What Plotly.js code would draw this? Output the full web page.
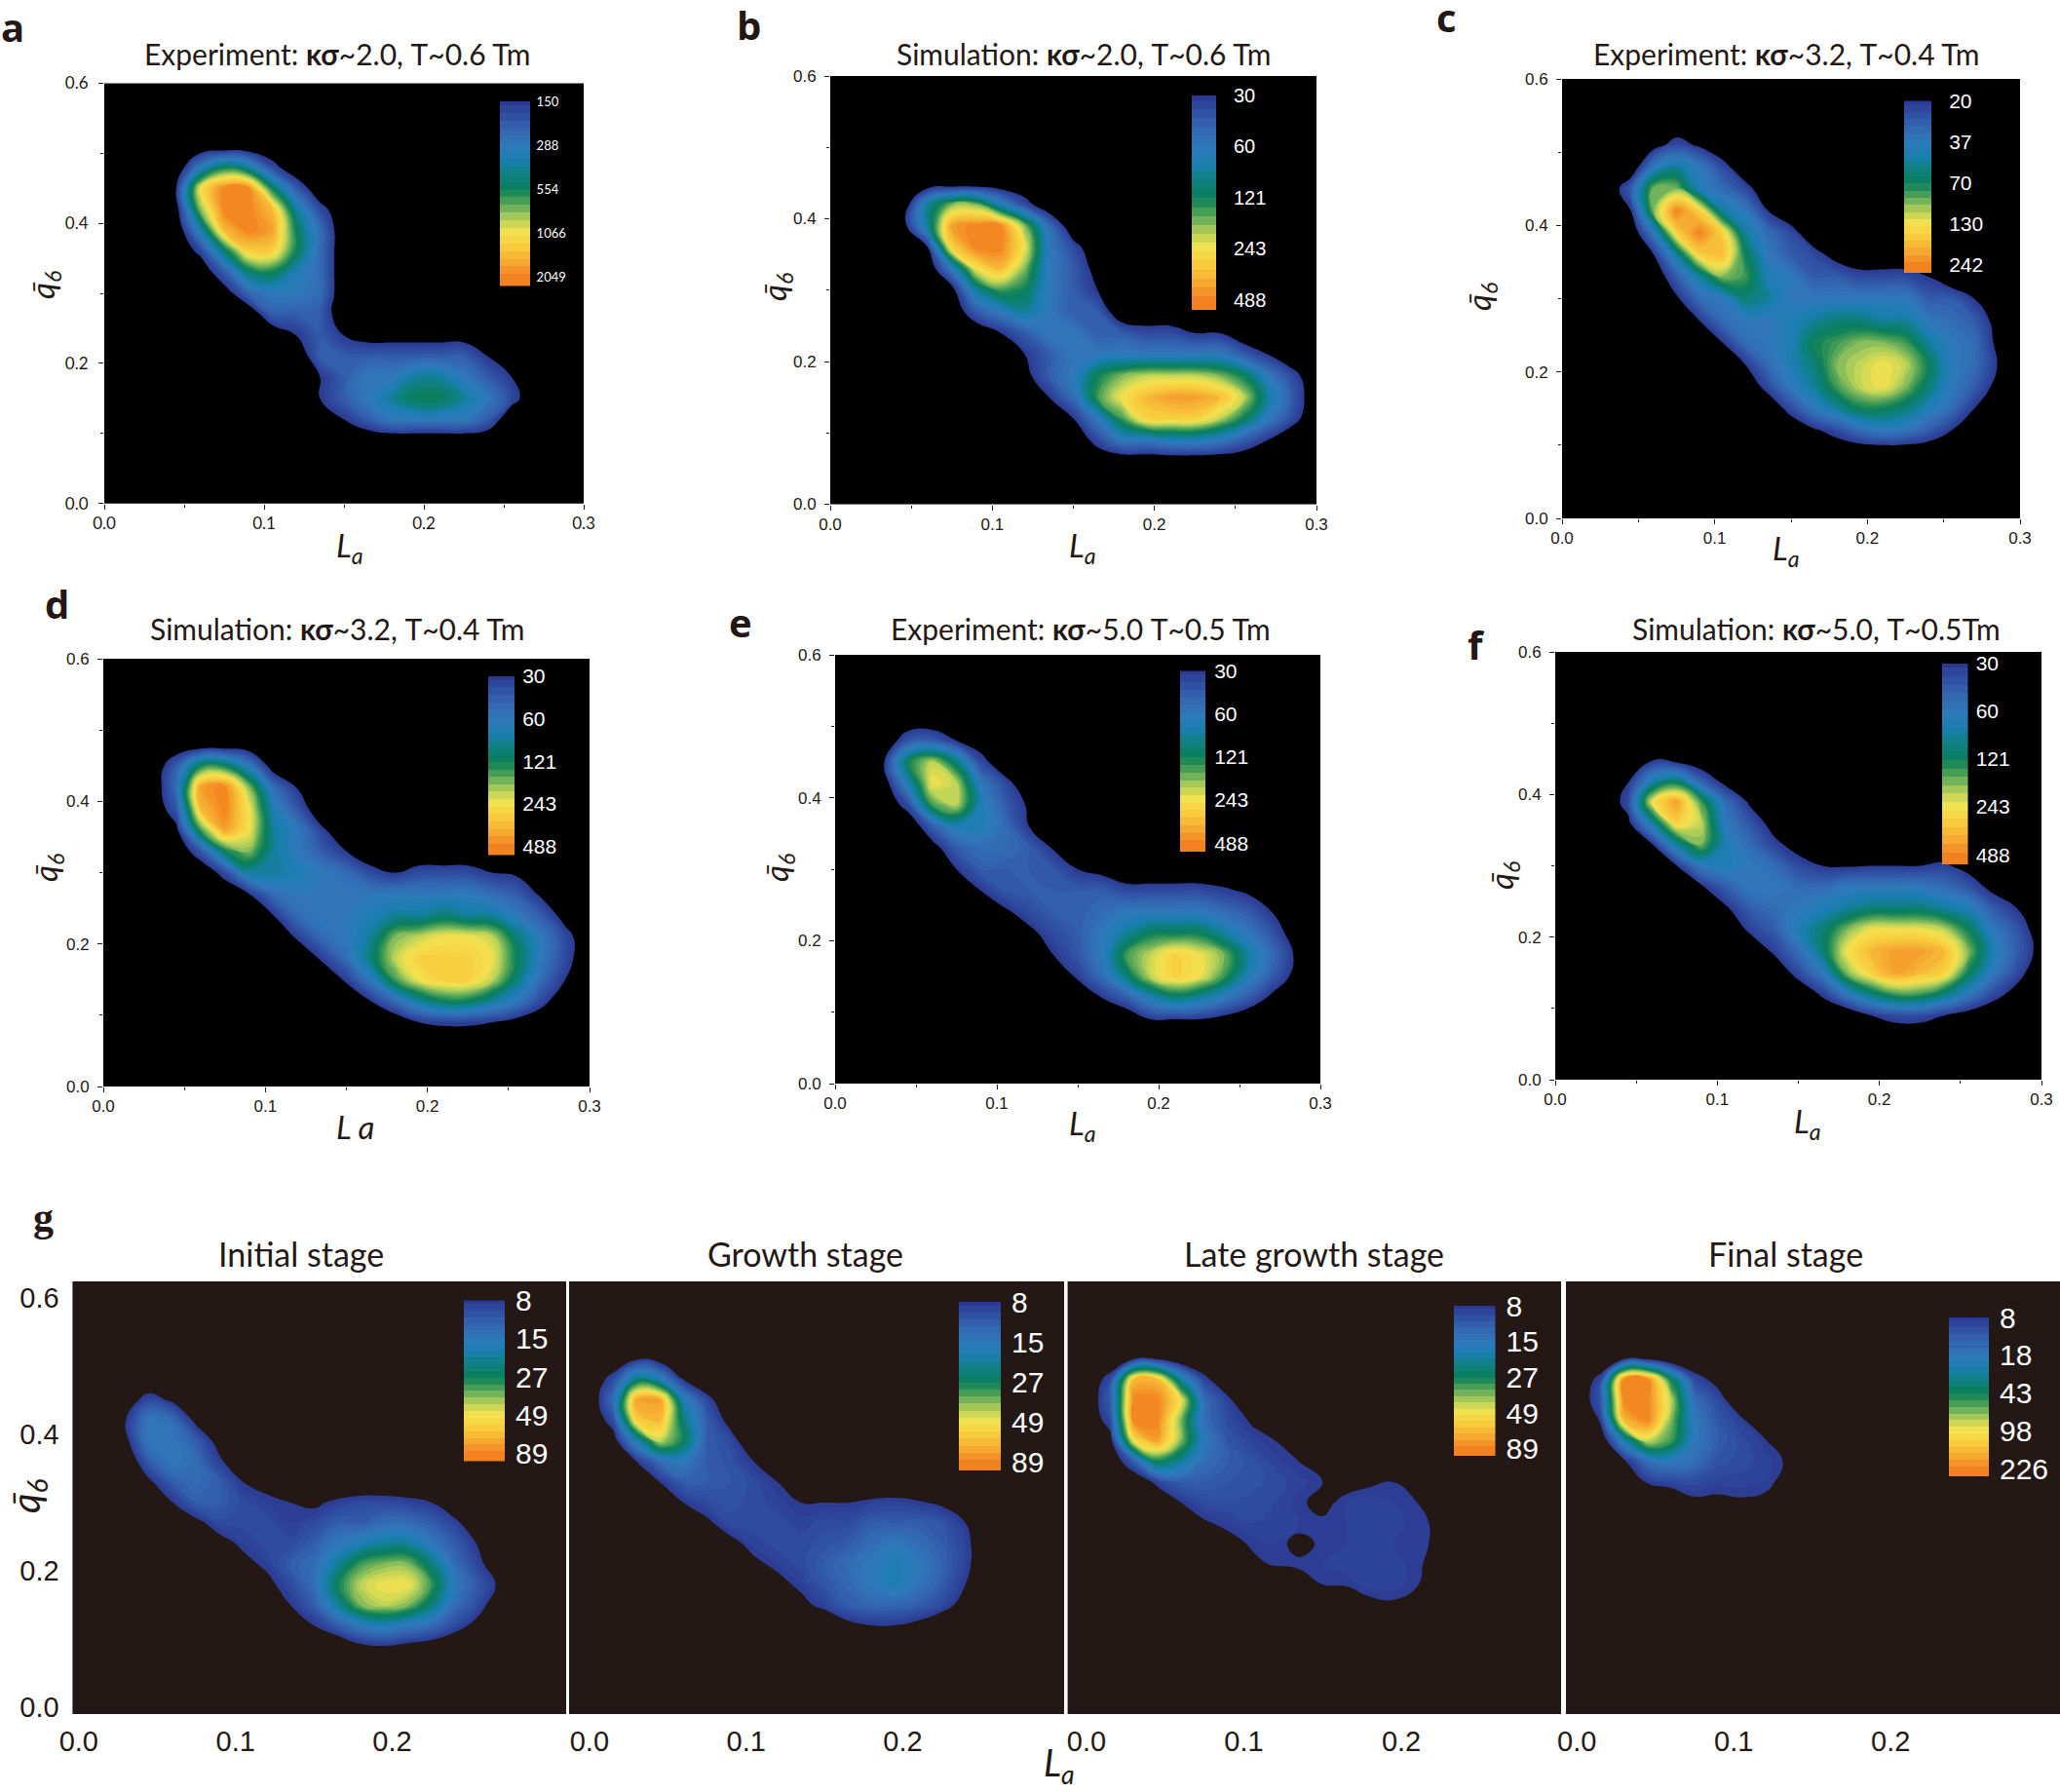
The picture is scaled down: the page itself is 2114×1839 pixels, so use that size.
<!DOCTYPE html>
<html><head><meta charset="utf-8">
<script src="https://cdn.plot.ly/plotly-3.0.1.min.js"></script>
<style>html,body{margin:0;padding:0;background:#fff}#chart{width:2114px;height:1839px}</style>
</head><body><div id="chart"></div>
<script>
// Grid of the density maps (rows run from q6 = 0.54 down to 0.06). Values are read off the picture as
// positions on each panel's colour bar: 1, 3, 5, 7, 9 are the five labelled bar ticks, below 1 is background.
const rowQ6 = [0.54,0.51,0.48,0.45,0.42,0.39,0.36,0.33,0.30,0.27,0.24,0.21,0.18,0.15,0.12,0.09,0.06];
const colLaTop = [0.03,0.045,0.06,0.075,0.09,0.105,0.12,0.135,0.15,0.165,0.18,0.195,0.21,0.225,0.24,0.255,0.27,0.285,0.30];
const colLaStage = [0,0.015,0.03,0.045,0.06,0.075,0.09,0.105,0.12,0.135,0.15,0.165,0.18,0.195,0.21,0.225,0.24,0.255,0.27,0.285];

const zA = [[],[],
[0,0,3,5,4,1.5],
[0,1,7,9,9,5,2],
[0,.5,6,9,9,8,4,1.5],
[0,0,3.5,8,9,8.5,5,2.5],
[0,0,1.3,4.5,7.5,7.5,5,2.5],
[0,0,0,2,4.5,5,3.5,2.5],
[0,0,0,.3,2.2,3,3,2.5],
[0,0,0,0,0,2,2,2],
[0,0,0,0,0,0,1,2,1,.5,.5,.5,.5,.5],
[0,0,0,0,0,0,0,2,2,2,2,2,2,2,1],
[0,0,0,0,0,0,0,1,2,3,3,4,4,3,2,1],
[0,0,0,0,0,0,0,1,2,3,4,5,5,4,3,1.5],
[0,0,0,0,0,0,0,0,1,2,3,3,3,3,2],
[],[]];
const zB = [[],[],[],[],
[0,0,4,6,6,3.5,1.5],
[0,.5,4,8.5,9,9,6,2.5],
[0,0,1,7.5,9,9,7,3,1.5],
[0,0,0,3,7,8,6,3,2,.5],
[0,0,0,.5,4,5.5,5,3,2,1],
[0,0,0,0,2,3,4,3,2,2],
[0,0,0,0,0,1,2,3,3,2,2,1.5,1.5,1,1],
[0,0,0,0,0,0,1,2,3,3,3,3,3,3,3,2,1],
[0,0,0,0,0,0,.6,2,3,5,6,6.5,6.5,6.5,6,5,3,1.5],
[0,0,0,0,0,0,0,1,2.5,5.5,7,8,8.5,8.5,8,6.5,4,2],
[0,0,0,0,0,0,0,0,1,3,5.5,7.5,7.5,7.5,6.5,5,3,1.5],
[0,0,0,0,0,0,0,0,0,1.5,3,3,3.5,3.5,3,2,1],
[]];
const zC = [[],
[0,0,.5,1.5,.8],
[0,0,3,4,3,1.5],
[0,2,6,6,3.5,2.5,1.5],
[0,1,6,9,7.5,4,3,1],
[0,0,3,7.5,9,7.5,4,2.5,1.5],
[0,0,1,4,7.5,8,5,3,2,1.5,.5],
[0,0,0,2,4,6,5.5,3.5,3,2,2,1.5,1.5,1.5,1],
[0,0,0,.8,2.5,3,4.5,4,3,3,3,3,3,3,2,2,1],
[0,0,0,0,1,2.5,3,3,3.5,4,4.5,4.5,4,4,3,2.5,2,.5],
[0,0,0,0,0,1,2.5,3,3.5,5,5.5,6,6,5.5,4,3,2.5,.7],
[0,0,0,0,0,0,1,2.5,3.5,4.5,6,6.5,7,6.5,5,3,2.5,1],
[0,0,0,0,0,0,0,1.5,3,4,5.5,6.5,7,6,4.5,3,2,.6],
[0,0,0,0,0,0,0,0,1.5,3,4,5,5,4.5,3.5,2.5,1],
[0,0,0,0,0,0,0,0,0,.8,1.5,2.5,3,2.8,2,1],
[],[]];
const zD = [[],[],[],
[0,2,5,5,3,.3],
[0,2.5,8.5,9,6,2.5,.9],
[0,1.8,8,9,7,3.5,1.8],
[0,.7,5.5,8.5,7,4,3,1.2],
[0,0,1.8,5,6,4,3,2,1],
[0,0,0,1.5,4,4,3.5,3,2.5,1.5,1,1.5,1.5,1.5,1,.8],
[0,0,0,0,1,2.5,3,3,3,3,3,3,3,3,2.5,2,.8],
[0,0,0,0,0,1,2.5,3,3,3.5,4,4,4.5,4,4,3,2,.5],
[0,0,0,0,0,0,1.2,2.5,3,4,6,6.5,7,7,6.5,4.5,3,1.5],
[0,0,0,0,0,0,0,1.2,2.5,4.5,6.5,7.5,7.5,7.5,7,5,3,1.5],
[0,0,0,0,0,0,0,0,1.2,3,5.5,7,7.5,7.5,6.5,4.5,2.5,1],
[0,0,0,0,0,0,0,0,0,1,2.5,4,5,5,4,3,1.5],
[0,0,0,0,0,0,0,0,0,0,0,1,1.2,1.2,1,.5],
[]];
const zE = [[],[],
[0,1.8,2,1,.3],
[.9,5,6.5,4.5,1.5],
[.3,3.5,7,6.5,3,1.5],
[0,1.5,5.5,6.5,3.5,2,.8],
[0,0,2,3.5,3.5,2.5,1],
[0,0,.5,2,2.5,2.5,2,.9],
[0,0,0,1,2,2,2,1.8,1,.6],
[0,0,0,0,1,1.8,2,2,2,2,1.5,1.5,1.5,1.5,1.2,.8],
[0,0,0,0,0,.8,1.5,2,2,2.5,3,3,3,3,2.5,2,1],
[0,0,0,0,0,0,.7,1.5,2,3,4,5,5,5,4,3,1.8,.3],
[0,0,0,0,0,0,0,1,1.8,3,5.5,6.5,7.5,7,6,4,2.5,.8],
[0,0,0,0,0,0,0,0,1.2,2.5,4.5,6.5,7.5,7,5.5,3.5,2,.6],
[0,0,0,0,0,0,0,0,0,1,2,3.5,4.5,4,3,2,.7],
[0,0,0,0,0,0,0,0,0,0,0,1,1,1,.6],
[]];
const zF = [[],[],[],
[0,0,.8,.3],
[0,.9,3.5,4.5,2,.5],
[0,1.5,7,8.5,5.5,2.5,.8],
[0,.7,4,7.5,6.5,3,1.8,.5],
[0,0,1,4,6,3.5,2.5,1.3,.5],
[0,0,0,1,3,3.5,3,2.5,1.5,1,.9,1,1,1,1.2,.5],
[0,0,0,0,.8,2,3,3,2.5,2.5,3,3,3,3,2.5,1.8,.6],
[0,0,0,0,0,.8,2,2.5,3,3.5,4,4.5,4.5,4.5,4,3.5,2,1],
[0,0,0,0,0,0,1.2,2,3.5,4.5,6,7,7,7,6.5,5,3,1.8,.2],
[0,0,0,0,0,0,0,1.2,2.5,4.5,7,8,8.5,8.5,8,6,3.5,2,.5],
[0,0,0,0,0,0,0,0,1.5,3,6,7.5,8.5,8,7.5,5,3,1.5],
[0,0,0,0,0,0,0,0,0,1.2,3,4.5,5.5,5.5,4.5,3,1.5,.5],
[0,0,0,0,0,0,0,0,0,0,0,1,1.5,1.5,1,.4],
[]];
const zG1 = [[],[],[],
[0,0,.4,1.5,.8],
[0,0,1,3,2.5,.7],
[0,0,.7,3,3,2,.5],
[0,0,0,2,3,2.5,1.2],
[0,0,0,.8,2,2.5,2,1,.7],
[0,0,0,0,1,2,2,1.5,1.2,1,.8,1.2,1.5,1.5,1.3,1],
[0,0,0,0,0,.7,1.5,1.5,1.5,1.2,1.5,2,2,2.5,2.5,2,1.3],
[0,0,0,0,0,0,.6,1.2,1.5,1.5,2,3,3.5,4,4,3,2,.9],
[0,0,0,0,0,0,0,.7,1.2,2,2.5,4,5.5,6,6,4.5,2.5,1.3],
[0,0,0,0,0,0,0,0,.7,1.5,2.5,5,6.5,7,7,5.5,3,1.8,.7],
[0,0,0,0,0,0,0,0,0,1,2,4,6,6.5,6,4.5,2.5,1.5],
[0,0,0,0,0,0,0,0,0,0,1,2,3,3.5,3,2.5,1.5,.6],
[0,0,0,0,0,0,0,0,0,0,0,0,.8,1,.7,.4],
[]];
const zG2 = [[],
[0,0,.9,.5],
[0,1.5,4.5,3.5,1],
[0,2.5,8.5,8.5,3.5,1.4],
[0,1.5,7.5,8,4.5,2,.6],
[0,.4,3.5,6.5,5,2,1.5],
[0,0,1,2.5,3,2,1.7,1],
[0,0,0,1,2,2,1.8,1.5,1],
[0,0,0,0,1,1.5,1.7,1.5,1.3,1,1,1,1.2,1.3,1.1,.8],
[0,0,0,0,0,.8,1.5,1.5,1.5,1.3,1.5,1.5,2,2,2,1.8,1],
[0,0,0,0,0,0,.7,1.3,1.5,1.5,1.7,2,2.5,3,2.5,2,1.3],
[0,0,0,0,0,0,0,.8,1.2,1.5,2,2.5,3,3.5,3,2.2,1.3],
[0,0,0,0,0,0,0,0,.7,1.2,1.8,2.3,3,3.5,2.8,2,1],
[0,0,0,0,0,0,0,0,0,.7,1.3,2,2.3,2.3,2,1.5,.5],
[0,0,0,0,0,0,0,0,0,0,0,.7,1,1,.7],
[],[]];
const zG3 = [[],
[0,0,1,1],
[0,1.5,8,8,4,1.3],
[0,2,9,9,7,2.5,1.2],
[0,1.5,9,9,6,2.5,1.5,.9],
[0,.5,7,8.5,6,3,1.8,1.3,1],
[0,0,2,5,4,2.5,2,1.7,1.3,1],
[0,0,0,1.3,2,2,1.8,1.7,1.5,1.3,1,.7,.9,1,.9],
[0,0,0,0,1,1.5,1.6,1.5,1.4,1.1,.8,1.2,1.3,1.2,1],
[0,0,0,0,0,.9,1.2,1.4,1.3,1.2,1.1,1.2,1.3,1.3,1.1,.9],
[0,0,0,0,0,0,.7,1.1,1.2,.8,1.1,1.2,1.3,1.2,1.1,.9],
[0,0,0,0,0,0,0,.8,1.1,1.1,1.2,1.3,1.3,1.3,1.1,.7],
[0,0,0,0,0,0,0,0,0,.7,1,1.1,1.3,1.3,1.1],
[0,0,0,0,0,0,0,0,0,0,0,0,.8,.9],
[],[],[]];
const zG4 = [[],
[0,0,1,.9],
[0,1.4,9,9,5,1.5,.6],
[0,1.8,9,9,6.5,2.5,1.5],
[0,1.1,8,9,6,3,1.8,1.2],
[0,0,3.5,6.5,5.5,3,2,1.5,1.1],
[0,0,.8,2.5,3,2.5,1.7,1.5,1.3,.9],
[0,0,0,1.1,1.4,1.5,1.3,1.3,1.2,.7],
[0,0,0,0,0,.8,.8,.9,.8],
[],[],[],[],[],[],[],[]];

// Colour bar: position on the bar and its colour (top of the bar = position 1)
const scalePos = [1,1.6,2.2,3,3.7,4.3,5,5.5,6,6.4,7,7.7,8.4,9];
const scaleCol = ['#2b3990','#2f4ea3','#3464ae','#2f79bb','#1a7fb0','#0f8082','#0a7f5a','#3f9a55','#7db85c','#b9d257','#f5e250','#f8c93c','#f5a630','#f2821f'];
const barPos = [1,1.35,1.7,2.05,2.4,2.75,3.1,3.45,3.8,4.15,4.5,4.85,5.2,5.55,5.9,6.25,6.6,6.95,7.3,7.65,8,8.35,8.7,9.05,9.4];
const tickPos = [1,3,5,7,9];
const tickA = ['150','288','554','1066','2049'];
const tickB = ['30','60','121','243','488'];
const tickC = ['20','37','70','130','242'];
const tickG = ['8','15','27','49','89'];
const tickG4 = ['8','18','43','98','226'];

const titles = ['Experiment: <b>κσ</b>~2.0, T~0.6 Tm','Simulation: <b>κσ</b>~2.0, T~0.6 Tm','Experiment: <b>κσ</b>~3.2, T~0.4 Tm','Simulation: <b>κσ</b>~3.2, T~0.4 Tm','Experiment: <b>κσ</b>~5.0 T~0.5 Tm','Simulation: <b>κσ</b>~5.0, T~0.5Tm','Initial stage','Growth stage','Late growth stage','Final stage'];

const W = 2114, H = 1839, ZMAX = 9.4;
const px = v => v / W, py = v => 1 - v / H;

// Contour bands: Plotly stretches a filled contour's colour scale over [start - size/2, end + size/2]
const C_START = 1, C_END = 9.4, C_SIZE = 0.2;
const C_LOW = C_START - C_SIZE / 2, C_SPAN = (Math.floor((C_END + 1e-6 - C_START) / C_SIZE) + 1) * C_SIZE;

// Page geometry of each panel, in pixels
const P = [
 {z:zA,t:tickA,box:[107,599,85.5,516.7],bar:[513,544,104,293.5],tf:13,ts:3,sd:7,title:[346,55],la:[359,561],q:[46,293],letter:['a',13,27]},
 {z:zB,t:tickB,box:[852,1351,78,517.5],bar:[1223,1248,98,318],tf:20,ts:13,sd:5,title:[1112,55],la:[1111,561],q:[796,295],letter:['b',768,26]},
 {z:zC,t:tickC,box:[1603,2073,81,532],bar:[1954,1982,103.5,280],tf:21,ts:13,sd:5,title:[1833,55],la:[1833,564],q:[1519,305],letter:['c',1484,18]},
 {z:zD,t:tickB,box:[106,605,676,1115],bar:[501,528,694,877.5],tf:21,ts:3,sd:5,title:[346,645],la:[364,1156],q:[48,891],letter:['d',58,620],laTxt:'<i>L a</i>'},
 {z:zE,t:tickB,box:[857,1355,672,1112],bar:[1211,1237,688.6,874],tf:21,ts:4,sd:5,title:[1109,645],la:[1111,1154],q:[798,891],letter:['e',760,638]},
 {z:zF,t:tickB,box:[1596,2095,669,1108],bar:[1993,2019.5,681,887],tf:21,ts:3,sd:5,title:[1864,645],la:[1855,1152],q:[1542,899],letter:['f',1515,662]},
 {g:1,z:zG1,t:tickG,box:[74.4,581,1315,1759],bar:[476,518,1334.5,1499.5],tf:30,ts:4,title:[309,1286],rx:[-0.004,0.311]},
 {g:1,z:zG2,t:tickG,box:[584,1092,1315,1759],bar:[984,1027,1336,1509],tf:30,ts:4,title:[826,1286],rx:[-0.013,0.303]},
 {g:1,z:zG3,t:tickG,box:[1095.6,1602,1315,1759],bar:[1492,1534.5,1340,1494],tf:30,ts:4,title:[1348,1286],rx:[-0.012,0.3015]},
 {g:1,z:zG4,t:tickG4,box:[1607,2114,1315,1759],bar:[2000,2041,1352,1515],tf:30,ts:4,title:[1832,1286],rx:[-0.007,0.308]}
];

const barScale = () => {
  const s = [[0, '#000000'], [(1 - 0.001) / ZMAX, '#000000']];
  scalePos.forEach((p, i) => s.push([p / ZMAX, scaleCol[i]]));
  s.push([1, scaleCol[scaleCol.length - 1]]);
  return s;
};
const contourScale = bg => {
  const s = [[0, bg], [(C_START - 0.001 - C_LOW) / C_SPAN, bg]];
  scalePos.forEach((p, i) => s.push([(p - C_LOW) / C_SPAN, scaleCol[i]]));
  s.push([1, scaleCol[scaleCol.length - 1]]);
  return s;
};

const data = [], shapes = [], annotations = [];
const layout = {width: W, height: H, margin: {l:0,r:0,t:0,b:0}, paper_bgcolor:'#fff', plot_bgcolor:'rgba(0,0,0,0)', showlegend:false, shapes, annotations};
const note = (text, x, y, size, extra) => annotations.push(Object.assign({text, xref:'paper', yref:'paper', x:px(x), y:py(y), xanchor:'center', yanchor:'middle', showarrow:false, font:{family:'Lato, "Open Sans", sans-serif', size, color:'#231815'}}, extra||{}));

P.forEach((p, i) => {
  const bg = p.g ? '#231815' : '#000000';
  const a = 2*i + 1, b = 2*i + 2;
  const xk = 'xaxis' + (a === 1 ? '' : a), yk = 'yaxis' + (a === 1 ? '' : a);
  const xb = 'xaxis' + b, yb = 'yaxis' + b;
  const nameX = a === 1 ? 'x' : 'x' + a, nameY = a === 1 ? 'y' : 'y' + a;
  const cols = p.g ? colLaStage : colLaTop;
  const z = p.z.map(r => cols.map((_, j) => r[j] === undefined ? 0 : r[j]));
  data.push({type:'contour', x:cols, y:rowQ6, z, xaxis:nameX, yaxis:nameY, autocontour:false, contours:{start:C_START, end:C_END, size:C_SIZE, coloring:'fill', showlines:false}, line:{width:0, smoothing:1.3}, colorscale:contourScale(bg), showscale:false, hoverinfo:'skip'});
  data.push({type:'heatmap', x:[0], y:barPos, z:barPos.map(v => [v]), xaxis:'x'+b, yaxis:'y'+b, zmin:0, zmax:ZMAX, colorscale:barScale(), showscale:false, hoverinfo:'skip'});
  shapes.push({type:'rect', xref:nameX+' domain', yref:nameY+' domain', x0:0, x1:1, y0:0, y1:1, fillcolor:bg, line:{width:0}, layer:'below'});
  const fam = i === 0 ? 'Lato, sans-serif' : '"Liberation Sans", Arial, sans-serif';
  if (p.g) {
    layout[xk] = {domain:[px(p.box[0]),px(p.box[1])], range:p.rx, anchor:nameY, tickvals:[0,0.1,0.2], ticktext:['0.0','0.1','0.2'], ticks:'outside', ticklen:2, tickcolor:'rgba(0,0,0,0)', showgrid:false, zeroline:false, showline:false, tickfont:{family:'"Liberation Sans", Arial, sans-serif', size:29, color:'#231815'}};
    layout[yk] = {domain:[py(p.box[3]),py(p.box[2])], range:[-0.01,0.624], anchor:nameX, showgrid:false, zeroline:false, showline:false, tickvals:i===6?[0,0.2,0.4,0.6]:[], ticktext:i===6?['0.0','0.2','0.4','0.6']:[], ticks:i===6?'outside':'', ticklen:7, tickcolor:'rgba(0,0,0,0)', tickfont:{family:'"Liberation Sans", Arial, sans-serif', size:29, color:'#231815'}};
  } else {
    layout[xk] = {domain:[px(p.box[0]),px(p.box[1])], range:[0,0.3], anchor:nameY, tickvals:[0,0.1,0.2,0.3], ticktext:['0.0','0.1','0.2','0.3'], ticks:'outside', ticklen:5, tickcolor:'#231815', showgrid:false, zeroline:false, showline:false, minor:{tickvals:[0.05,0.15,0.25], ticks:'outside', ticklen:3, tickcolor:'#231815', showgrid:false}, tickfont:{family:fam, size:17, color:'#231815'}};
    layout[yk] = {domain:[py(p.box[3]),py(p.box[2])], range:[0,0.6], anchor:nameX, tickvals:[0,0.2,0.4,0.6], ticktext:['0.0','0.2','0.4','0.6'], ticks:'outside', ticklen:5, ticklabelstandoff:p.sd, tickcolor:'#231815', showgrid:false, zeroline:false, showline:false, minor:{tickvals:[0.1,0.3,0.5], ticks:'outside', ticklen:3, tickcolor:'#231815', showgrid:false}, tickfont:{family:fam, size:17, color:'#231815'}};
  }
  layout[xb] = {domain:[px(p.bar[0]),px(p.bar[1])], anchor:'y'+b, visible:false, range:[-0.5,0.5]};
  layout[yb] = {domain:[py(p.bar[3]),py(p.bar[2])], anchor:'x'+b, side:'right', range:[ZMAX,1], tickvals:tickPos, ticktext:p.t, ticks:'outside', ticklen:p.ts, tickcolor:'rgba(0,0,0,0)', showgrid:false, zeroline:false, showline:false, tickfont:{family:fam, size:p.tf, color:'#ffffff'}};
  note(titles[i], p.title[0], p.title[1], p.g ? 34 : 30);
  if (p.la) note(p.laTxt || '<i>L</i><sub><i>a</i></sub>', p.la[0], p.la[1], 33);
  if (p.q) note('<i>q̄</i><sub><i>6</i></sub>', p.q[0], p.q[1], 33, {textangle:-90});
  if (p.letter) note('<b>'+p.letter[0]+'</b>', p.letter[1], p.letter[2], 40, {font:{family:'"Open Sans", sans-serif', size:40, color:'#231815'}});
});
note('<i>q̄</i><sub><i>6</i></sub>', 28, 1536, 40, {textangle:-90});
note('<i>L</i><sub><i>a</i></sub>', 1087, 1811, 38);
note('<b>g</b>', 44, 1249, 42, {font:{family:'"Liberation Serif", serif', size:42, color:'#231815'}});

Plotly.newPlot('chart', data, layout, {staticPlot:true, displayModeBar:false});
</script></body></html>
